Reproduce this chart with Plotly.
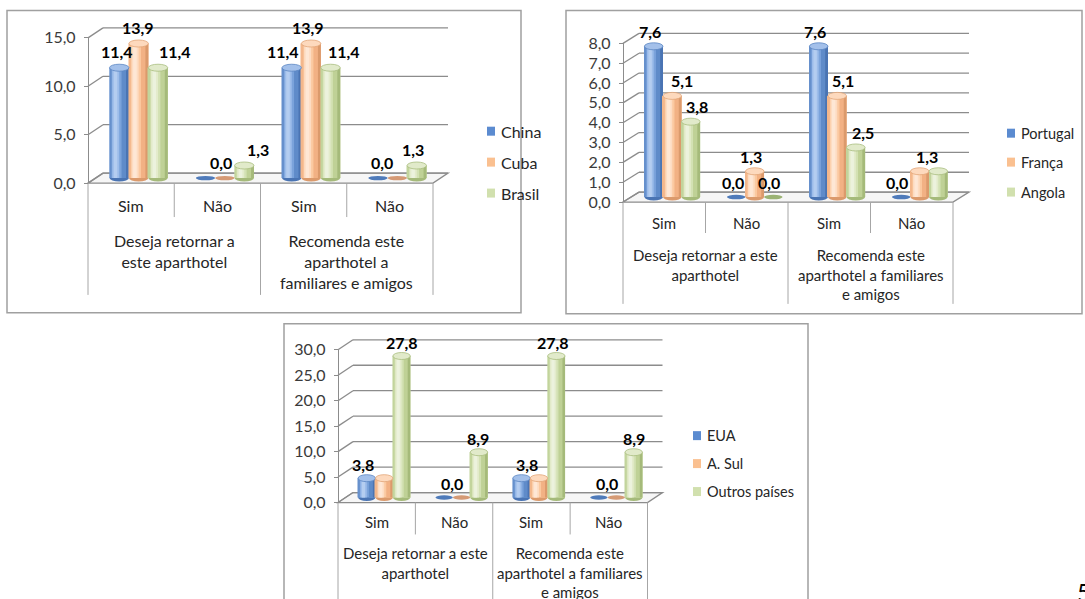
import plotly.graph_objects as go

W, H = 1085, 599
FONT = "Lato, 'Open Sans', sans-serif"

# ---------------------------------------------------------------- data
subcats = ["Sim", "Não", "Sim", "Não"]
groups_a = ["Deseja retornar a<br>este aparthotel",
            "Recomenda este<br>aparthotel a<br>familiares e amigos"]
groups_b = ["Deseja retornar a este<br>aparthotel",
            "Recomenda este<br>aparthotel a familiares<br>e amigos"]

series_1 = ["China", "Cuba", "Brasil"]
china = [11.4, 0.0, 11.4, 0.0]
cuba = [13.9, 0.0, 13.9, 0.0]
brasil = [11.4, 1.3, 11.4, 1.3]

series_2 = ["Portugal", "França", "Angola"]
portugal = [7.6, 0.0, 7.6, 0.0]
franca = [5.1, 1.3, 5.1, 1.3]
angola = [3.8, 0.0, 2.5, 1.3]

series_3 = ["EUA", "A. Sul", "Outros países"]
eua = [3.8, 0.0, 3.8, 0.0]
a_sul = [3.8, 0.0, 3.8, 0.0]
outros = [27.8, 8.9, 27.8, 8.9]

# ---------------------------------------------------------------- styles
BLUE = dict(mid="#7BA3DB", dark="#5F8BC9", edge="#4A74B3", ledge="#6690CC",
            hi="#9DBDEA", hi2="#B4CDF0", cap="#A3C0EA", capline="#5C86C3",
            zero="#4F7BBA", swatch="#5B8BD0")
PEACH = dict(mid="#FBC9A0", dark="#F2B184", edge="#DB9A6C", ledge="#F3B78C",
             hi="#FDDCC2", hi2="#FEE7D5", cap="#FDD9BD", capline="#E2A679",
             zero="#D59A75", swatch="#FAC090")
GREEN = dict(mid="#D3E1B3", dark="#BFD196", edge="#A5BA7A", ledge="#C2D49C",
             hi="#E3EBCB", hi2="#ECF2DD", cap="#E1EACA", capline="#A9BE80",
             zero="#9BB374", swatch="#D1E0AE")
PALETTE = [BLUE, PEACH, GREEN]

# vertical strips that give each bar its cylinder shading: (start, end, colour)
STRIPS = [(0.0, 1.0, "mid"), (0.62, 1.0, "dark"), (0.85, 1.0, "edge"),
          (0.0, 0.1, "ledge"), (0.14, 0.5, "hi"), (0.22, 0.4, "hi2")]
BAR_W = 0.225
GRID = "#8C8C8C"
DIV = "#A6A6A6"
TXT = "#262626"
FS = 16

# vertical page layout: positions below are given on a page whose usable
# band starts at Y_TOP and is Y_SCALE of the figure height
Y_TOP, Y_SCALE = 9.6, 0.970


def fx(x):
    return x / W


def fy(y):
    return 1 - ((y - Y_TOP) / Y_SCALE) / H


def fmt(v):
    return f"{v:.1f}".replace(".", ",")


def text_note(x, y, text, size=FS, xanchor="center", yanchor="middle", **kw):
    return dict(xref="paper", yref="paper", x=fx(x), y=fy(y), text=text,
                showarrow=False, xanchor=xanchor, yanchor=yanchor,
                font=dict(family=FONT, size=size, color=kw.pop("color", TXT)), **kw)


fig = go.Figure()
shapes_below, shapes_above, annotations = [], [], []
layout_axes = {}


def panel(k, names, values, group_txt, g):
    xid = "x" if k == 1 else f"x{k}"
    xkey = "xaxis" if k == 1 else f"xaxis{k}"
    nm, nf = 2 * k - 1, 2 * k
    ymid = "y" if nm == 1 else f"y{nm}"
    ymkey = "yaxis" if nm == 1 else f"yaxis{nm}"
    yfid, yfkey = f"y{nf}", f"yaxis{nf}"

    x0f, x1f, y0f, ytf = g["front"]
    dx, dy = g["depth"]
    ymax, dtick = g["ymax"], g["dtick"]
    ppu = (y0f - ytf) / ymax
    x0m, x1m = x0f + dx / 2, x1f + dx / 2
    y0m, ytm = y0f + dy / 2, ytf + dy / 2
    pad = 8

    # bars live on the mid-depth plane, tick labels on the front plane
    layout_axes[xkey] = dict(domain=[fx(x0m), fx(x1m)], range=[-0.5, 3.5],
                             visible=False, fixedrange=True, anchor=ymid)
    layout_axes[ymkey] = dict(domain=[fy(y0m + pad), fy(ytm)],
                              range=[-pad / ppu, ymax], visible=False,
                              fixedrange=True, anchor=xid)
    ticks = [dtick * i for i in range(int(round(ymax / dtick)) + 1)]
    layout_axes[yfkey] = dict(
        domain=[fy(y0f), fy(ytf)], range=[0, ymax], anchor="free",
        position=fx(x0f), showline=True, linecolor=GRID, linewidth=1.3,
        ticks="outside", ticklen=4, tickcolor=GRID, tickvals=ticks,
        tickformat=".1f", ticklabelstandoff=5, showgrid=False, zeroline=False,
        tickfont=dict(family=FONT, size=FS, color="#3A3A3A"), fixedrange=True)
    fig.add_trace(go.Scatter(x=[None], y=[None], xaxis=xid, yaxis=yfid,
                             showlegend=False, hoverinfo="skip"))

    # panel frame
    bx0, by0, bx1, by1 = g["border"]
    shapes_below.append(dict(type="rect", xref="paper", yref="paper",
                             x0=fx(bx0), x1=fx(bx1), y0=fy(by0), y1=fy(by1),
                             line=dict(color="#A0A0A0", width=1.5),
                             fillcolor="white", layer="below"))

    # floor
    path = (f"M {fx(x0f)},{fy(y0f)} L {fx(x1f)},{fy(y0f)} "
            f"L {fx(x1f + dx)},{fy(y0f + dy)} L {fx(x0f + dx)},{fy(y0f + dy)} Z")
    shapes_below.append(dict(type="path", path=path, xref="paper", yref="paper",
                             fillcolor="#F6F6F6", line=dict(color=GRID, width=1.3),
                             layer="below"))
    # back wall gridlines and their side diagonals
    for v in ticks:
        yv = y0f - v * ppu
        shapes_below.append(dict(type="line", xref="paper", yref="paper",
                                 x0=fx(x0f + dx), x1=fx(x1f + dx),
                                 y0=fy(yv + dy), y1=fy(yv + dy),
                                 line=dict(color=GRID, width=1.3), layer="below"))
        shapes_below.append(dict(type="line", xref="paper", yref="paper",
                                 x0=fx(x0f), x1=fx(x0f + dx),
                                 y0=fy(yv), y1=fy(yv + dy),
                                 line=dict(color=GRID, width=1.3), layer="below"))

    # category axis: dividers, sub-category and group labels
    cw = (x1f - x0f) / 4
    for j in range(5):
        bottom = g["grp_bot"] if j % 2 == 0 else g["sub_bot"]
        shapes_below.append(dict(type="line", xref="paper", yref="paper",
                                 x0=fx(x0f + j * cw), x1=fx(x0f + j * cw),
                                 y0=fy(y0f), y1=fy(bottom),
                                 line=dict(color=DIV, width=1), layer="below"))
    for j, s in enumerate(subcats):
        annotations.append(text_note(x0f + (j + 0.5) * cw, g["cat_y"], s,
                                     size=g["cat_fs"]))
    for j, s in enumerate(group_txt):
        annotations.append(text_note(x0f + (2 * j + 1) * cw, g["grp_y"], s,
                                     size=g["cat_fs"], yanchor="top", align="center"))

    # cylinders
    xs = list(range(len(subcats)))
    cwm = (x1m - x0m) / 4
    placed = []
    for i, (name, vals) in enumerate(zip(names, values)):
        pal = PALETTE[i]
        c = (i - 1) * BAR_W
        for a, b, key in STRIPS:
            fig.add_trace(go.Bar(
                x=xs, y=vals, xaxis=xid, yaxis=ymid, name=name,
                width=[(b - a) * BAR_W] * len(xs),
                offset=[c - BAR_W / 2 + a * BAR_W] * len(xs),
                marker=dict(color=pal[key], line=dict(width=0)),
                showlegend=False, hoverinfo="skip"))
        for j, v in enumerate(vals):
            xl, xr = j + c - BAR_W / 2, j + c + BAR_W / 2
            if v > 0:
                shapes_below.append(dict(type="circle", xref=xid, yref=ymid,
                                         x0=xl, x1=xr, ysizemode="pixel", yanchor=0,
                                         y0=-3.5, y1=3.5, fillcolor=pal["edge"],
                                         line=dict(width=0), layer="below"))
                shapes_above.append(dict(type="circle", xref=xid, yref=ymid,
                                         x0=xl, x1=xr, ysizemode="pixel", yanchor=v,
                                         y0=-3.5, y1=3.5, fillcolor=pal["cap"],
                                         line=dict(color=pal["capline"], width=0.8)))
            else:
                shapes_above.append(dict(type="circle", xref=xid, yref=ymid,
                                         x0=xl, x1=xr, ysizemode="pixel", yanchor=0,
                                         y0=-2.2, y1=2.2, fillcolor=pal["zero"],
                                         line=dict(width=0)))
            # value label; labels that land on (nearly) the same spot are drawn once
            shift = g["shifts"][j][i]
            lxp = x0m + (j + 0.5 + c) * cwm + shift
            if any(t == fmt(v) and abs(p - lxp) < 4 for p, t in placed):
                continue
            placed.append((lxp, fmt(v)))
            annotations.append(dict(xref=xid, yref=ymid, x=j + c, y=v,
                                    text=f"<b>{fmt(v)}</b>", showarrow=False,
                                    xanchor="center", yanchor="middle",
                                    xshift=shift, yshift=g["label_dy"],
                                    font=dict(family=FONT, size=FS, color="black")))

        # legend entry
        lx, ly = g["legend_x"], g["legend_ys"][i]
        shapes_above.append(dict(type="rect", xref="paper", yref="paper",
                                 x0=fx(lx), x1=fx(lx + 8), y0=fy(ly - 4.5), y1=fy(ly + 4.5),
                                 fillcolor=pal["swatch"], line=dict(width=0)))
        annotations.append(text_note(lx + 12, ly, name, size=g["leg_fs"],
                                     xanchor="left"))


panel(1, series_1, [china, cuba, brasil], groups_a, dict(
    front=(88, 433, 183, 37.5), depth=(15, -10), ymax=15, dtick=5,
    sub_bot=217, grp_bot=295, cat_y=205, grp_y=229, label_dy=16,
    cat_fs=16, leg_fs=16,
    legend_x=487, legend_ys=[131, 162, 193], border=(7, 10, 521, 313),
    shifts=[[-2, -1, 17], [16, -3, 14], [-9, -3, 13], [4, -15, -4]]))

panel(2, series_2, [portugal, franca, angola], groups_b, dict(
    front=(623, 953, 202, 43), depth=(16, -10), ymax=8, dtick=1,
    sub_bot=233, grp_bot=304, cat_y=223, grp_y=244, label_dy=15,
    cat_fs=15, leg_fs=14.5,
    legend_x=1007, legend_ys=[133, 162, 192], border=(566, 10, 1082, 314),
    shifts=[[-4, 10, 6], [-3, -4, -4], [-4, 6, 7], [-4, 7, -11]]))

panel(3, series_3, [eua, a_sul, outros], groups_b, dict(
    front=(338, 647.5, 503, 350), depth=(15, -10), ymax=30, dtick=5,
    sub_bot=535, grp_bot=612, cat_y=523, grp_y=543, label_dy=14,
    cat_fs=15, leg_fs=14.5,
    legend_x=693, legend_ys=[436, 464, 492], border=(284, 324, 808, 614),
    shifts=[[-4, -21, 0], [8, -10, -1], [5, -12, -3], [8, -9, 0]]))

# page number at the lower right corner
annotations.append(text_note(1075, 592, "5", size=24, xanchor="left", color="black"))

fig.update_layout(
    width=W, height=H, margin=dict(l=0, r=0, t=0, b=0, pad=0),
    paper_bgcolor="white", plot_bgcolor="rgba(0,0,0,0)",
    separators=",.", barmode="overlay", showlegend=False,
    shapes=shapes_below + shapes_above, annotations=annotations,
    **layout_axes)

# keep the page itself free of margins so the figure fills the window
fig.write_html("out.html",
               post_script="document.body.style.margin='0';"
                           "document.body.style.overflow='hidden';")
